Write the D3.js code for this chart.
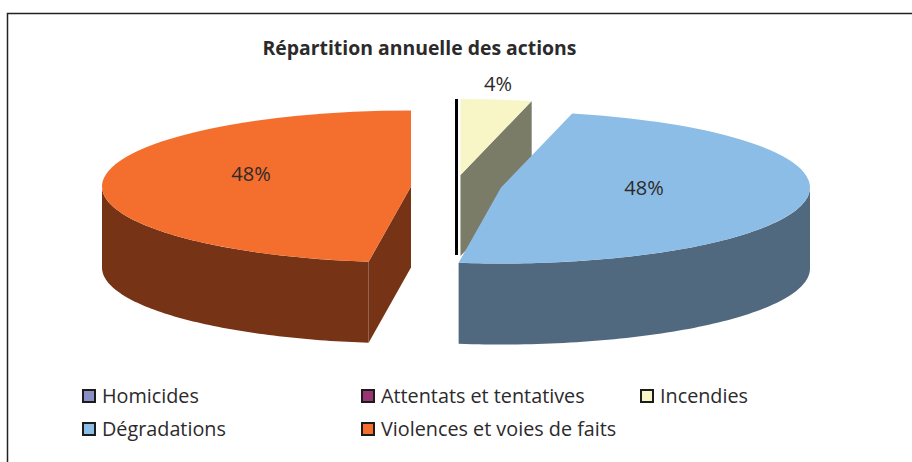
<!DOCTYPE html>
<html>
<head>
<meta charset="utf-8">
<script src="https://cdn.jsdelivr.net/npm/d3@7"></script>
<style>
  html, body { margin: 0; padding: 0; background: #fff; }
  svg { display: block; }
  text { font-family: "Open Sans", "Noto Sans", sans-serif; fill: #2c2a2b; }
</style>
</head>
<body>
<script>
var categories = ["Homicides", "Attentats et tentatives", "Incendies", "Dégradations", "Violences et voies de faits"];
var shares = [0, 0, 3.7, 48.49, 47.81];
var topColors = ["#8b8fc8", "#9a3573", "#f8f6c6", "#8cbde6", "#f46e2e"];
var wallColors = ["#000", "#000", "#7b7c68", "#51697f", "#763316"];

var width = 912;
var height = 462;
var rx = 309;
var ry = 76;
var depth = 81;

// where each exploded slice ended up, and where its label goes
var centers = [[456.5, 175], [456.5, 175], [460.5, 175], [501, 187.5], [411, 186.5]];
var labelPos = [null, null, [498, 84], [644, 188], [251, 174]];
var legendPos = [[82, 396], [361, 396], [640, 396], [82, 429], [361, 429]];

var svg = d3.select("body").append("svg")
  .attr("width", width)
  .attr("height", height);

// frame
svg.append("path")
  .attr("d", "M7.5,462V13.5H912")
  .attr("fill", "none")
  .attr("stroke", "#222")
  .attr("stroke-width", 1.5);

svg.append("text")
  .attr("x", 419.5)
  .attr("y", 55)
  .attr("text-anchor", "middle")
  .attr("font-size", 19.4)
  .attr("font-weight", 700)
  .text("Répartition annuelle des actions");

var pie = d3.pie().sort(null);
var slices = pie(shares);

var arc = d3.arc().innerRadius(0).outerRadius(rx);

var wallArea = d3.area()
  .x(function(a) { return rx * Math.sin(a); })
  .y0(function(a) { return -ry * Math.cos(a); })
  .y1(function(a) { return -ry * Math.cos(a) + depth; })
  .curve(d3.curveLinear);

function rimAngles(a0, a1) {
  var n = 80;
  return d3.range(n + 1).map(function(i) { return a0 + (a1 - a0) * i / n; });
}

function drawSlice(i) {
  var s = slices[i];
  var g = svg.append("g")
    .attr("transform", "translate(" + centers[i][0] + "," + centers[i][1] + ")");

  // outer wall, only the part that faces the viewer (90deg to 270deg)
  var a0 = Math.max(s.startAngle, Math.PI / 2);
  var a1 = Math.min(s.endAngle, Math.PI * 3 / 2);
  if (a1 > a0) {
    g.append("path")
      .attr("d", wallArea(rimAngles(a0, a1)))
      .attr("fill", wallColors[i]);
  }

  // cut face
  var cutAngle = s.endAngle < Math.PI ? s.endAngle : s.startAngle;
  if (i != 3) {
    var ex = rx * Math.sin(cutAngle);
    var ey = -ry * Math.cos(cutAngle);
    g.append("path")
      .attr("d", "M0,0L" + ex + "," + ey + "L" + ex + "," + (ey + depth) + "L0," + depth + "Z")
      .attr("fill", wallColors[i]);
  }

  // top, a flattened d3 arc
  g.append("path")
    .attr("transform", "scale(1," + (ry / rx) + ")")
    .attr("d", arc(s))
    .attr("fill", topColors[i]);
}

// back to front
drawSlice(4);
drawSlice(2);

// the two empty slices collapse to a black line
svg.append("line")
  .attr("x1", centers[0][0])
  .attr("x2", centers[0][0])
  .attr("y1", centers[0][1] - ry)
  .attr("y2", centers[0][1] + depth - 1)
  .attr("stroke", wallColors[0])
  .attr("stroke-width", 3);

drawSlice(3);

slices.forEach(function(s, i) {
  if (!labelPos[i]) return;
  svg.append("text")
    .attr("x", labelPos[i][0])
    .attr("y", labelPos[i][1])
    .attr("dy", "0.36em")
    .attr("text-anchor", "middle")
    .attr("font-size", 20)
    .text(Math.round(shares[i]) + "%");
});

var legend = svg.selectAll("g.legend")
  .data(categories)
  .enter()
  .append("g")
  .attr("class", "legend")
  .attr("transform", function(d, i) { return "translate(" + legendPos[i][0] + "," + legendPos[i][1] + ")"; });

legend.append("rect")
  .attr("x", 1)
  .attr("y", -6)
  .attr("width", 12)
  .attr("height", 12)
  .attr("fill", function(d, i) { return topColors[i]; })
  .attr("stroke", "#1c1c1c")
  .attr("stroke-width", 2);

legend.append("text")
  .attr("x", 20)
  .attr("dy", "0.36em")
  .attr("font-size", 19.8)
  .text(function(d) { return d; });
</script>
</body>
</html>
